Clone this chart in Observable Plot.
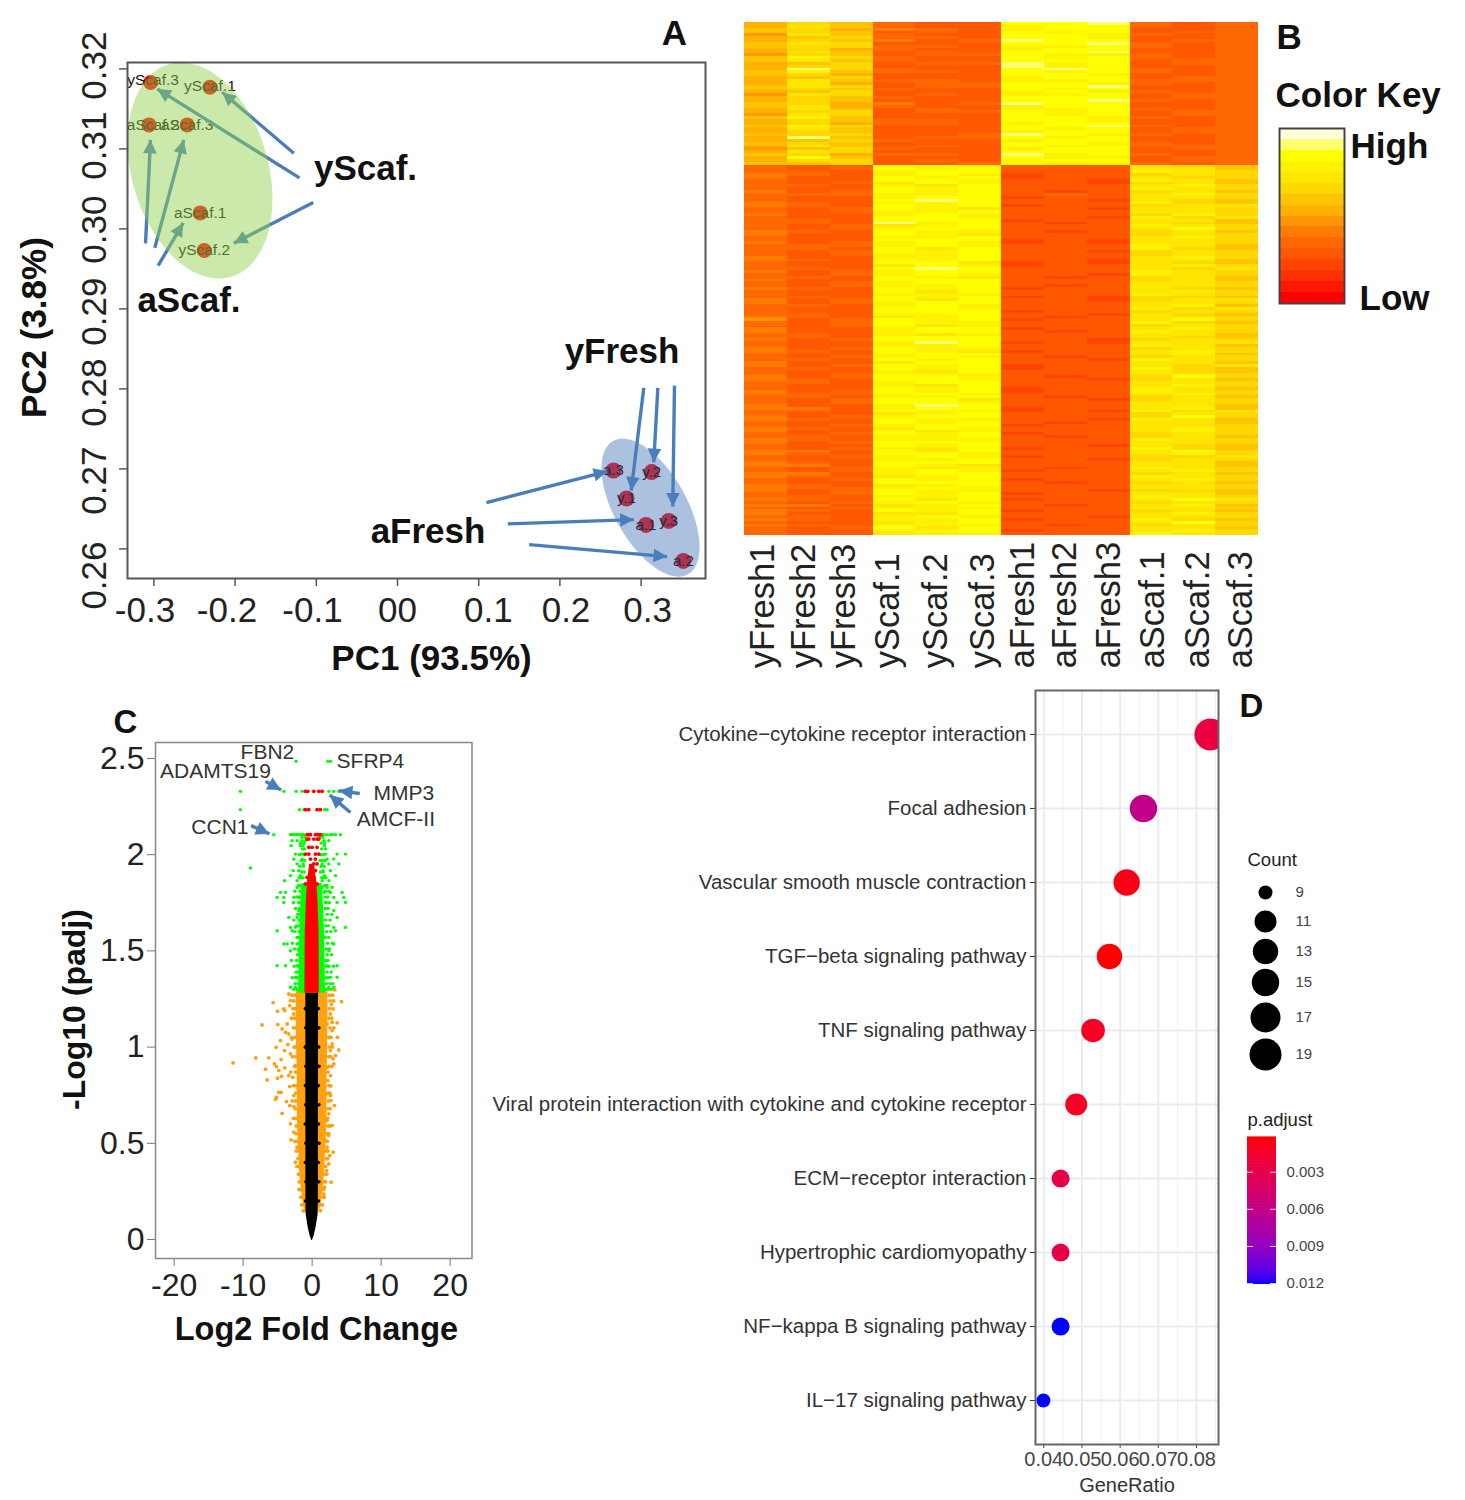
<!DOCTYPE html>
<html><head><meta charset="utf-8">
<script src="https://cdn.jsdelivr.net/npm/d3@7"></script>
<script src="https://cdn.jsdelivr.net/npm/@observablehq/plot@0.6"></script>
<style>html,body{margin:0;background:#fff}#page{position:relative;width:1465px;height:1500px;overflow:hidden;background:#fff}</style>
</head><body><div id="page"></div>
<script>
const FONT = "'Liberation Sans',Arial,sans-serif";

/* ---------- Panel A: PCA ---------- */
const scafSamples = [
  {n:"yScaf.3",x:-.304,y:.3183,lx:-.301,ly:.3186},{n:"yScaf.1",x:-.231,y:.3177,lx:-.231,ly:.3178},{n:"aScaf.2",x:-.306,y:.3130,lx:-.301,ly:.3130},
  {n:"aScaf.3",x:-.259,y:.3130,lx:-.259,ly:.3130},{n:"aScaf.1",x:-.243,y:.3020,lx:-.243,ly:.3020},{n:"yScaf.2",x:-.238,y:.2973,lx:-.238,ly:.2974}];
const freshSamples = [
  {n:"a.3",x:.266,y:.2698},{n:"y.2",x:.313,y:.2696},{n:"y.1",x:.282,y:.2663},
  {n:"a.1",x:.306,y:.2630},{n:"y.3",x:.334,y:.2635},{n:"a.2",x:.352,y:.2585}];
const scafArrows = [
  [-.1277,.30945,-.2159,.31708],[-.1207,.30638,-.2959,.3175],[-.1038,.30329,-.2016,.2982],
  [-.3103,.2982,-.3042,.31113],[-.2989,.29763,-.2632,.31113],[-.2947,.29541,-.2639,.30075]];
const freshArrows = [
  [.3033,.28013,.2878,.26729],[.3206,.28013,.3156,.27083],[.3411,.28041,.3390,.26529],
  [.1096,.26579,.2583,.2697],[.1358,.26313,.2910,.26366],[.1622,.26054,.3321,.25904]];
/* ellipse: centre, major semi-axis vector, minor semi-axis vector (chart units) */
const scafEllipse = {cx:-.2432,cy:.3073,ax:-.0382,ay:.01329,bx:.0806,by:.00239};
const freshEllipse = {cx:.3116,cy:.26516,ax:-.0461,ay:.00834,bx:.0390,by:.00222};
const pcaXTicks = [-.3,-.2,-.1,0,.1,.2,.3];
const pcaYTicks = [.26,.27,.28,.29,.30,.31,.32];
const pcaXLabels = [{t:"-0.3",x:-.311},{t:"-0.2",x:-.21},{t:"-0.1",x:-.1047},{t:"00",x:0},{t:"0.1",x:.112},{t:"0.2",x:.2075},{t:"0.3",x:.3079}];
const pcaYLabels = [{t:"0.32",y:.32041},{t:"0.31",y:.31041},{t:"0.30",y:.29991},{t:"0.29",y:.28966},{t:"0.28",y:.27954},{t:"0.27",y:.26854},{t:"0.26",y:.25667}];
const pcaBigLabels = [{t:"yScaf.",x:-.0394,y:.30754},{t:"aScaf.",x:-.2568,y:.29104},{t:"yFresh",x:.2765,y:.28466},{t:"aFresh",x:.0376,y:.26216},{t:"A",x:.3411,y:.32441},{t:"PC1 (93.5%)",x:.0419,y:.24629}];

/* ---------- Panel B: heatmap (one hex level per sample, per row) ---------- */
const samples = ["yFresh1","yFresh2","yFresh3","yScaf.1","yScaf.2","yScaf.3","aFresh1","aFresh2","aFresh3","aScaf.1","aScaf.2","aScaf.3"];
const sampleLabelAt = [.42,1.38,2.33,3.34,4.46,5.56,6.51,7.49,8.5,9.53,10.58,11.58];
const heatColors = ["#ff0000","#ff1800","#ff3000","#ff4400","#ff5800","#ff6800","#ff7c00","#ff9800","#ffb000","#ffc400","#ffd800","#ffe600","#fff200","#ffff00","#ffff70","#ffffdc"];
const heatRowsTop = [
"8a9544dde545","8b9544cdd545","9a8654cdd445","9a9454dcd455","7b9544ddc545","89a554ddc445","8a9645edd455","9ba444dde545","9aa554ccd545","8a8544cdd445","8b9454dde445",
"7a9455dcc545","9ca544dcd545","9b9544ddd455","89a455ecd455","8aa444ecd445","8ea544ded545","9c9554dcd545","9a8444ddc445","89a444cdd455","8b9554ccd555","8b8455ddc545",
"9ba455dde445","9a9544dcd445","89a444cdc545","7ba454ccd455","8a9544ddd455","8a9444dde545","9a8645edd445","9b8544cdd445","8b9454ccd545","8aa455dcd455","7ba444dcd455",
"9c9444ddc545","8a9554ddc445","8a8554cdd445","9ca444dde545","8b9444dcd455","8a9444cdd455","9aa445edc545","8e9455dcd445","89a544cdd445","9a9444ddc545","8b9454dcd555",
"79a544cdd455","8ba444ddd445","9a8554ecd545","8d9444dcc455","8aa454cdd455","99a445dcd545"];
const heatRowsBottom = [
"544ddc444ba9","545dcd444bb9","554cdd444cba","654cdc344aba","644dcd344baa","544ddc443cb9","545bdc443ab9","554cbd444bca","544dcd444cba","645dcd434ab9","555ccd454bca",
"544cdd344bba","544ded443ba9","654ccd444ca9","654dcd344abb","545dcb443bba","545ccd444bba","644cdc444aca","544ddc443cab","554ddd344bb9","554ecd434ba9","545bcd444cba",
"545cdd444bda","654dcc434ab9","644dcb444aba","544ccd444bca","544ddd343bba","645cdc343bba","555cdc444cb9","554dbd444ca9","545dcd443aba","545ccd444aba","644ccd444bca",
"654dcd443bb9","544ddb343ba9","544bdc344bca","554ded444bab","645cdd444cba","545cdc443cba","554dcb434ab9","644ddd444ab9","545cdd444bba","545ccd434bba","654dcd344ba9",
"544dbd444bca","544ccc444cba","554dcd343aa9","645dbd443abb","645cdd444bba","554cdc444bc9","544ddc444cab","544ddd344aba","554ccd443ba9","654bcd434bba","745dcd344bda",
"545dcc444ca9","545dbc444aba","644cdd344bca","644cdd434cba","554cbc444bb9","554ddd444ba9","645ddd443aba","544ced343bbb","544ccd444cb9","645dcc444aba","654dcb344bca",
"544cdd444bc9","545cdc434aba","554dcd443cba","644bdd444bb9","645dcd344bab","554dcd344ca9","544cbd444ba9","545ccc444bba","645ddc434ada","654ddc443ab9","554cdd444bba",
"544cbd444bca","544dcd344cb9","645dcd344cba","655cdc444bca","554ccd434ab9","545ddb443aba","545ddc444bba","644ced444bb9","664cdd344bc9","554dcc343cab","544bcd444aba",
"645cdd444ada","654dcc443cb9","544dcd434bb9","545cdd344bba","654bdc444bca","644dbc444bca","545dcd344aba","554ccd434ab9","654ccc444cba","645ddd444bba","544dcd443ba9",
"545cbd344ca9","664dbd444bda","654ddc444bca","545cdc344aab","544ccd443aba","654ddd444bb9","664dcb444bb9","545cbc434cba","545cdc344bca","664cdd444ab9","654bcd444cba",
"545dcd344bca","544ddd434ab9","654bcd444bba","655cdc444bba","645dcc443aa9","545dcd344bb9","554ccd444cba","654dbd344bdb","545cdc444aba","664bcd434bc9","545ccc444cba",
"654dcd344ab9","644bbd444bca","554cdc443bba","654ccd344ca9","544bcd444bda","654ccc434aba","545dbd444bb9","544ccd344bca","544bcc444cba"];
const heatRows = heatRowsTop.concat(heatRowsBottom);

/* ---------- Panel C: volcano ---------- */
const orangePts = [[-11.45,.918],[-8.16,.944],[-6.28,.944],[-7.25,1.115],[-5.65,1.231],[-5.02,1.186],[-4.11,1.198],[-4.98,1.117],
[-5.22,.999],[-4.01,.982],[-4.59,1.034],[-3.53,1.013],[-4.49,.935],[-5.46,.913],[-5.17,.899],[-6.76,.885],[-4.83,.878],[-3.96,.892],
[-6.52,.829],[-5.02,.838],[-4.44,.848],[-3.38,.852],[-2.8,.843],[-4.83,.765],[-4.49,.765],[-5.17,.739],[-5.31,.729],[-3.72,.717],
[-3.24,.696],[-4.35,.656],[-2.66,.691],[-2.66,.748],[-3.24,.795],[-2.03,.783],[4.25,1.236],[3.29,1.297],[2.8,1.221],[3.04,1.198],
[3.62,1.126],[2.9,1.086],[3.67,1.051],[3.86,.985],[3.38,.956],[3.14,.913],[2.66,.852],[2.71,.798],[2.71,.722],[3.24,.696],[2.9,.592],
[2.42,.54],[3.04,.454],[2.56,.436],[2.42,.393],[2.75,.298],[1.79,.272],[-3.14,.601],[-3.04,.518],[-2.42,.402],[-2.66,.558],[-2.17,.48],
[-1.69,.367],[-3.38,1.276],[-3.14,1.242],[-3.24,1.216],[-3.96,1.19],[-2.66,1.172],[-3.62,1.12],[-4.35,1.094],[-3.86,1.077],[-3.38,1.068],
[-2.9,1.042],[-2.51,.999],[-3.14,.965],[-2.42,.904],[2.66,1.172],[2.17,1.12],[2.9,1.129],[2.42,1.051],[2.9,1.016],[2.66,.982],[3.04,.939],
[2.17,.895],[2.27,.826],[2.17,.757],[2.66,.748],[2.42,.653],[2.17,.618],[1.93,.514],[2.17,.48],[2.08,.358],[1.69,.237]];
const orangeRows = [
[1.27,[-2.9,-2.5,2.5,2.95]],[1.24,[-2.65,2.6,3.1]],[1.2,[-2.8,-2.45,2.55]],[1.15,[-3,-2.55,2.45,2.85]],[1.1,[-2.7,-2.4,2.6,3.15]],
[1.05,[-2.95,-2.5,2.45,2.75]],[1,[-2.6,-2.4,2.5,2.95]],[.95,[-2.85,-2.35,2.4,2.7]],[.9,[-2.55,2.45,2.85]],[.87,[-3.1,-2.4,2.3]],
[.8,[-2.7,-2.3,2.4]],[.76,[-2.35,2.3,2.55]],[.72,[-2.9,-2.4,2.35]],[.68,[-2.45,2.3,2.6]],[.63,[-2.7,-2.35,2.25]],[.59,[-2.3,2.3,2.55]],
[.55,[-2.35,2.15,2.4]],[.51,[-2.5,-2.15,2.2]],[.46,[-2.3,2.1,2.3]],[.42,[-2.05,2.05,2.25]],[.38,[-2.2,-1.9,1.95]],[.34,[-2,-1.75,1.85,2.15]],
[.3,[-1.85,1.75,1.95]],[.26,[-1.9,-1.7,1.65]],[.22,[-1.65,1.6,1.75]],[.18,[-1.5,1.35,1.5]],[.15,[-1.3,-1.15,1.2]]];
const greenRows = [
[2.485,[-2.32,2.27,2.66]],[2.329,[-10.39,-4.11,-2.32,-1.45,2.42,3.14,3.86]],[2.234,[-10.39,-1.84,-1.2,1.79,2.17]],
[2.104,[-5.56,-3.14,-2.9,-2.66,-2.42,-2.17,-1.93,-1.69,-1.45,-1.2,1.45,1.69,2.17,2.66,2.9,3.38,4.11]],
[2.073,[-2.9,-2.17,-1.45,-.97,1.69,2.42]],[2.047,[-3.04,-1.69,-1.3,1.79]],[2.003,[-2.42,-1.69,-1.3,1.93,3.62,4.83]],
[1.977,[-2.66,-1.45,2.17,3.14]],[1.952,[-2.17,-1.3,1.45,2.42,3.86]],[1.931,[-8.94]],[1.917,[-2.75,-1.93,1.59,2.66]],
[1.891,[-3.14,-1.69,1.79,3.38]],[1.865,[-4,-2.17,1.45,2.42]],[1.83,[-2.17,-1.45,1.45,2.17,2.9]],[1.804,[-4.59,-3.86,-1.45,1.79,2.66,4.35]],
[1.778,[-5.07,-4.11,-2.66,-1.93,3.14,4.59]],[1.752,[-4.11,-1.69,1.93,3.62,4.83]],[1.709,[-1.93,3.14]],[1.674,[-3.38,-2.17,3.62]],
[1.622,[-3.14,-2.42,3.14,4.83]],[1.605,[-5.07,-2.9,1.45,3.38]],[1.536,[-4.11,-3.62,-2.17,3.14]],[1.501,[-3.14,-1.93,2.42]],
[1.423,[-5.07,-3.86,-2.17,2.17,3.62]],[1.363,[-2.42,-1.69,2.66,3.62]],[1.311,[-3.14,-2.42,2.42,3.14]],
[1.30,[-2.7,-2.2,-1.95,2,2.35,2.8]],[1.33,[-2.45,-2,2.1,2.6,3]],[1.36,[-2.9,-2.15,-1.9,1.95,2.3]],[1.39,[-2.3,-2,2.15,2.75]],
[1.42,[-2.6,-1.95,2.05,2.45,3.1]],[1.45,[-3,-2.25,1.95,2.3]],[1.48,[-2.1,-1.9,2.2,2.8]],[1.51,[-2.55,-2,2.05,2.5]],
[1.54,[-2.85,-1.95,2.25,2.95]],[1.57,[-2.2,-2,1.9,2.4]],[1.60,[-2.5,-1.85,2.1,2.7]],[1.63,[-1.95,-2.3,2,2.35]],
[1.66,[-2.65,-1.9,1.95,2.6]],[1.69,[-2.1,-1.8,2.2,2.85]],[1.72,[-2.4,-1.85,1.9,2.3]],[1.75,[-1.95,-2.7,2.05,2.5]],
[1.78,[-2.2,-1.8,1.85,2.25]],[1.81,[-2.5,-1.75,1.9,2.4]],[1.84,[-1.95,-1.7,1.8,2.15]],
[1.88,[-1.9,-1.6,-1.3,1.4,1.7,2]],[1.91,[-1.5,-1.15,1.2,1.6]],[1.94,[-1.8,-1.25,1.3,1.75]],[1.97,[-1.55,-1.1,1.15,1.55,1.9]],
[2,[-1.85,-1.1,1.25,1.65]],[2.03,[-1.4,-1.1,1.35,1.95]],[2.06,[-1.7,-1.2,1.3,1.8]],[2.09,[-1.5,-1.05,1.15,1.55]]];
const redRows = [
[2.329,[-.97,-.63,.24,.97,1.45]],[2.234,[-.97,-.48,.72,1.2]],[2.104,[-.72,-.48,-.24,.48,.72,.97,1.21]],[2.081,[-.72,-.48,.24,.72,.97]],
[2.038,[-.48,0,.72]],[2.003,[-.97,-.48,.48,.97]],[1.977,[-.24,.48]],[1.952,[.24,.72]],[1.917,[-.24,.48]],[1.882,[-.72,-.24,.24]],[1.848,[-.97,-.48,.24,.72]]];
const blackRows = [[.2,[-.95,.92]],[.3,[-.9,.98]],[.4,[-.98,.9]],[.5,[-.9,1]],[.6,[-1,.92]],[.7,[-.92,.98]],[.8,[-.97,.9]],[.9,[-.9,1]],[1,[-1,.95]],[1.1,[-.92,.98]],[1.2,[-.98,.9]]];
const orangeBand = [{y:.14,h:.85},{y:.17,h:1.25},{y:.3,h:1.7},{y:.48,h:2},{y:.65,h:2.15},{y:.83,h:2.15},{y:1,h:2.25},{y:1.17,h:2.3},{y:1.29,h:2.3}];
const blackBand = [{y:-.005,h:.05},{y:.02,h:.3},{y:.064,h:.58},{y:.13,h:.87},{y:.2,h:.9},{y:1.29,h:.92}];
const greenBand = [{y:1.28,h:1.95},{y:1.5,h:1.85},{y:1.7,h:1.7},{y:1.85,h:1.45}];
const redBand = [{y:1.28,h:1.05},{y:1.6,h:1},{y:1.75,h:.85},{y:1.85,h:.7},{y:1.95,h:.35}];
const volcanoArrows = [[-6.77,2.381,-4.5,2.336],[6.91,2.318,3.87,2.332],[5.55,2.219,2.55,2.31],[-8.84,2.151,-6.19,2.108]];
const geneLabels = [{t:"FBN2",x:-6.48,y:2.53},{t:"SFRP4",x:8.45,y:2.483},{t:"ADAMTS19",x:-14,y:2.431},{t:"CCN1",x:-13.36,y:2.145},{t:"MMP3",x:13.3,y:2.317},{t:"AMCF-II",x:12.14,y:2.182}];
const volcanoXTicks = [-20,-10,0,10,20];
const volcanoYTicks = [0,.5,1,1.5,2,2.5];

/* ---------- Panel D: KEGG dot plot ---------- */
const pathways = ["Cytokine\u2212cytokine receptor interaction","Focal adhesion","Vascular smooth muscle contraction","TGF\u2212beta signaling pathway","TNF signaling pathway","Viral protein interaction with cytokine and cytokine receptor","ECM\u2212receptor interaction","Hypertrophic cardiomyopathy","NF\u2212kappa B signaling pathway","IL\u221217 signaling pathway"];
const geneRatio = [.08364,.0661,.0617,.0572,.0529,.0485,.0444,.0444,.0444,.0399];
const geneCount = [19,15,14,13,12,11,10,10,10,9];
const pAdjust = [.0024,.0062,.0007,.0002,.0012,.0012,.0028,.0028,.0121,.0121];
const ratioTicks = [.04,.05,.06,.07,.08];
const ratioMinor = [.045,.055,.065,.075,.085];
const countLegend = [9,11,13,15,17,19];
const pLegend = [.003,.006,.009,.012];

/* ---------- helpers ---------- */
function triangle(color, context){
  const ns = "http://www.w3.org/2000/svg", doc = context.document;
  const m = doc.createElementNS(ns,"marker");
  m.setAttribute("viewBox","-10 -5 10 10"); m.setAttribute("markerWidth","4"); m.setAttribute("markerHeight","4");
  m.setAttribute("orient","auto"); m.setAttribute("overflow","visible"); m.setAttribute("fill",color); m.setAttribute("stroke","none");
  const p = doc.createElementNS(ns,"path"); p.setAttribute("d","M-10,-5L0,0L-10,5z"); m.appendChild(p);
  return m;
}
const ellipsePts = e => d3.range(0,2*Math.PI,Math.PI/40).map(t=>({x:e.cx+e.ax*Math.cos(t)+e.bx*Math.sin(t),y:e.cy+e.ay*Math.cos(t)+e.by*Math.sin(t)}));
const arrowLinks = (rows,o={}) => Plot.link(rows,{x1:d=>d[0],y1:d=>d[1],x2:d=>d[2],y2:d=>d[3],stroke:"#4a7ebb",strokeWidth:3.4,markerEnd:triangle,...o});
const pos = (left,top)=>({fontFamily:FONT,position:"absolute",left:left+"px",top:top+"px",background:"transparent",overflow:"visible"});
const page = document.getElementById("page");
const rowsOf = rows => rows.flatMap(([y,xs])=>xs.map(x=>({x,y})));
const rScale = {type:"linear",domain:countLegend,range:[7,11,12.7,13.7,15,16]};
const colorScale = {type:"linear",domain:[.0002,.012],range:["#ff0000","#0000ff"],interpolate:"lab"};

/* Panel A */
page.append(Plot.plot({
  width:730,height:690,marginLeft:127,marginRight:25,marginTop:62,marginBottom:112,
  style:pos(0,0),
  x:{domain:[-.3325,.3793],axis:null},y:{domain:[.2563,.3208],axis:null},
  marks:[
    Plot.axisX(pcaXTicks,{tickSize:8,tickFormat:()=>"",label:null,stroke:"#555",strokeWidth:1.5}),
    Plot.axisY(pcaYTicks,{tickSize:8,tickFormat:()=>"",label:null,stroke:"#555",strokeWidth:1.5}),
    Plot.dot(scafSamples,{x:"x",y:"y",r:7.5,fill:"#ff0000"}),
    Plot.text(scafSamples,{x:"lx",y:"ly",text:"n",fontSize:15.5,fill:"#111"}),
    arrowLinks(scafArrows),
    Plot.line(ellipsePts(scafEllipse),{x:"x",y:"y",curve:"linear-closed",fill:"#92d050",fillOpacity:.48,stroke:"none"}),
    Plot.dot(freshSamples,{x:"x",y:"y",r:8,fill:"#ff0000"}),
    Plot.line(ellipsePts(freshEllipse),{x:"x",y:"y",curve:"linear-closed",fill:"#4673b9",fillOpacity:.45,stroke:"none"}),
    Plot.text(freshSamples,{x:"x",y:"y",text:"n",fontSize:15,fill:"#1d2a44"}),
    arrowLinks(freshArrows),
    Plot.frame({stroke:"#555",strokeWidth:2}),
    Plot.text(pcaXLabels,{x:"x",y:()=>.25229,text:"t",fontSize:35,fill:"#222"}),
    Plot.text(pcaYLabels,{x:()=>-.3732,y:"y",text:"t",rotate:-90,fontSize:35,fill:"#222"}),
    Plot.text(pcaBigLabels,{x:"x",y:"y",text:"t",fontSize:35,fontWeight:"bold",fill:"#111"}),
    Plot.text(["PC2 (3.8%)"],{x:()=>-.447,y:()=>.28766,rotate:-90,fontSize:35,fontWeight:"bold",fill:"#111"})
  ]
}));

/* Panel B */
const heatCells = heatRows.flatMap((row,r)=>[...row].map((c,i)=>({c:i,r,level:parseInt(c,16)})));
page.append(Plot.plot({
  width:527,height:690,marginLeft:9,marginRight:4,marginTop:22,marginBottom:155,
  style:pos(735,0),
  x:{domain:[0,samples.length],axis:null},y:{domain:[0,heatRows.length],reverse:true,axis:null},
  marks:[
    Plot.rect(heatCells,{x1:"c",x2:d=>d.c+1,y1:"r",y2:d=>d.r+1,fill:d=>heatColors[d.level],shapeRendering:"crispEdges",imageFilter:"blur(0.5px)"}),
    Plot.text(samples,{x:(d,i)=>sampleLabelAt[i],y:()=>heatRows.length*1.259,text:d=>d,rotate:-90,textAnchor:"start",fontSize:34.5,fill:"#222"})
  ]
}));
const keyBands = heatColors.map((c,i)=>({c,i}));
page.append(Plot.plot({
  width:203,height:330,marginLeft:17,marginRight:121,marginTop:128,marginBottom:27,
  style:pos(1262,0),
  x:{domain:[0,1],axis:null},y:{domain:[0,heatColors.length],axis:null},
  marks:[
    Plot.rect(keyBands,{x1:()=>0,x2:()=>1,y1:"i",y2:d=>d.i+1,fill:"c",shapeRendering:"crispEdges"}),
    Plot.frame({stroke:"#444",strokeWidth:2}),
    ...[["B",-3,-91],["Color Key",-4,-33],["High",71,18],["Low",80,170]].map(([t,dx,dy])=>
      Plot.text([t],{frameAnchor:"top-left",dx,dy,textAnchor:"start",lineAnchor:"middle",fontSize:35,fontWeight:"bold",fill:"#111"}))
  ]
}));

/* Panel C */
const orangeDots = orangePts.map(([x,y])=>({x,y})).concat(rowsOf(orangeRows));
page.append(Plot.plot({
  width:485,height:660,marginLeft:155,marginRight:13.5,marginTop:52,marginBottom:92,
  style:pos(0,690),
  x:{domain:[-22.7,23.17],axis:null},y:{domain:[-.0987,2.583],axis:null},
  marks:[
    Plot.axisX(volcanoXTicks,{tickSize:8,tickPadding:7,fontSize:32,label:null,stroke:"#777",fill:"#222",tickFormat:d=>String(d)}),
    Plot.axisY(volcanoYTicks,{tickSize:8,tickPadding:3,fontSize:32,label:null,stroke:"#777",fill:"#222",tickFormat:d=>String(d)}),
    Plot.areaX(orangeBand,{y:"y",x1:d=>-d.h,x2:"h",fill:"#ffa010"}),
    Plot.dot(orangeDots,{x:"x",y:"y",r:1.9,fill:"#ffa010"}),
    Plot.areaX(blackBand,{y:"y",x1:d=>-d.h,x2:"h",fill:"#000"}),
    Plot.dot(rowsOf(blackRows),{x:"x",y:"y",r:1.8,fill:"#000"}),
    Plot.areaX(greenBand,{y:"y",x1:d=>-d.h,x2:"h",fill:"#00ff00"}),
    Plot.dot(rowsOf(greenRows),{x:"x",y:"y",r:1.7,fill:"#00ff00"}),
    Plot.areaX(redBand,{y:"y",x1:d=>-d.h,x2:"h",fill:"#ff0000"}),
    Plot.dot(rowsOf(redRows),{x:"x",y:"y",r:1.9,fill:"#ff0000"}),
    arrowLinks(volcanoArrows),
    Plot.frame({stroke:"#888",strokeWidth:1.5}),
    Plot.text(geneLabels,{x:"x",y:"y",text:"t",fontSize:21,fill:"#333"}),
    Plot.text(["C"],{x:()=>-27.06,y:()=>2.686,fontSize:33,fontWeight:"bold",fill:"#111"}),
    Plot.text(["-Log10 (padj)"],{x:()=>-34.45,y:()=>1.195,rotate:-90,fontSize:32,fontWeight:"bold",fill:"#111"}),
    Plot.text(["Log2 Fold Change"],{x:()=>.62,y:()=>-.4675,fontSize:32.5,fontWeight:"bold",fill:"#111"})
  ]
}));

/* Panel D */
const dotRows = pathways.map((p,i)=>({p,ratio:geneRatio[i],count:geneCount[i],padj:pAdjust[i]}));
page.append(Plot.plot({
  width:745,height:815,marginLeft:550,marginRight:12,marginTop:5,marginBottom:56,
  style:pos(485,685),
  x:{domain:[.03783,.08576],axis:null},
  y:{type:"point",domain:pathways,padding:.594,round:false,axis:null},
  r:rScale,color:colorScale,
  marks:[
    Plot.gridX(ratioMinor,{stroke:"#eeeeee",strokeWidth:1,strokeOpacity:1}),
    Plot.gridX(ratioTicks,{stroke:"#ebebeb",strokeWidth:2,strokeOpacity:1}),
    Plot.gridY(pathways,{stroke:"#ebebeb",strokeWidth:2,strokeOpacity:1}),
    Plot.axisX(ratioTicks,{tickSize:4,tickPadding:3,fontSize:20,label:null,stroke:"#444",fill:"#444",tickFormat:d3.format(".2f")}),
    Plot.axisY(pathways,{tickSize:5,tickPadding:4,fontSize:20.5,label:null,stroke:"#333",fill:"#333",textOverflow:null,lineWidth:Infinity}),
    Plot.dot(dotRows,{x:"ratio",y:"p",r:"count",fill:"padj",clip:true}),
    Plot.frame({stroke:"#666",strokeWidth:2}),
    Plot.text(["GeneRatio"],{frameAnchor:"bottom",dy:41,lineAnchor:"middle",fontSize:20,fill:"#333"})
  ]
}));

/* D letter and Count legend */
page.append(Plot.plot({
  width:235,height:400,marginLeft:0,marginRight:0,marginTop:0,marginBottom:0,
  style:pos(1230,690),
  x:{axis:null,domain:[0,1]},
  y:{type:"linear",domain:countLegend,range:[202,231,261,292,327,364],axis:null},
  r:rScale,
  marks:[
    Plot.text(["D"],{frameAnchor:"top-left",dx:9,dy:16,textAnchor:"start",lineAnchor:"middle",fontSize:33,fontWeight:"bold",fill:"#111"}),
    Plot.text(["Count"],{frameAnchor:"top-left",dx:17,dy:170,textAnchor:"start",lineAnchor:"middle",fontSize:18.5,fill:"#222"}),
    Plot.dot(countLegend,{y:d=>d,r:d=>d,fill:"#000",frameAnchor:"left",dx:35}),
    Plot.text(countLegend,{y:d=>d,text:d=>String(d),frameAnchor:"left",dx:65,textAnchor:"start",fontSize:15,fill:"#444"})
  ]
}));

/* p.adjust legend */
const pRamp = d3.range(.00019,.012,.00012);
page.append(Plot.plot({
  width:235,height:210,marginLeft:0,marginRight:0,marginTop:0,marginBottom:0,
  style:pos(1230,1100),
  x:{domain:[0,235],range:[0,235],axis:null},
  y:{domain:[.00019,.012],range:[37,183],axis:null},
  color:colorScale,
  marks:[
    Plot.text(["p.adjust"],{frameAnchor:"top-left",dx:17,dy:20,textAnchor:"start",lineAnchor:"middle",fontSize:18.5,fill:"#222"}),
    Plot.ruleY(pRamp,{y:d=>d,x1:()=>17,x2:()=>46,stroke:d=>d,strokeWidth:2.2}),
    Plot.ruleY(pLegend,{y:d=>d,x1:()=>17,x2:()=>23,stroke:"#fff",strokeOpacity:.8}),
    Plot.ruleY(pLegend,{y:d=>d,x1:()=>40,x2:()=>46,stroke:"#fff",strokeOpacity:.8}),
    Plot.text(pLegend,{y:d=>d,x:()=>56,text:d=>d3.format(".3f")(d),textAnchor:"start",fontSize:15,fill:"#444"})
  ]
}));
</script></body></html>
